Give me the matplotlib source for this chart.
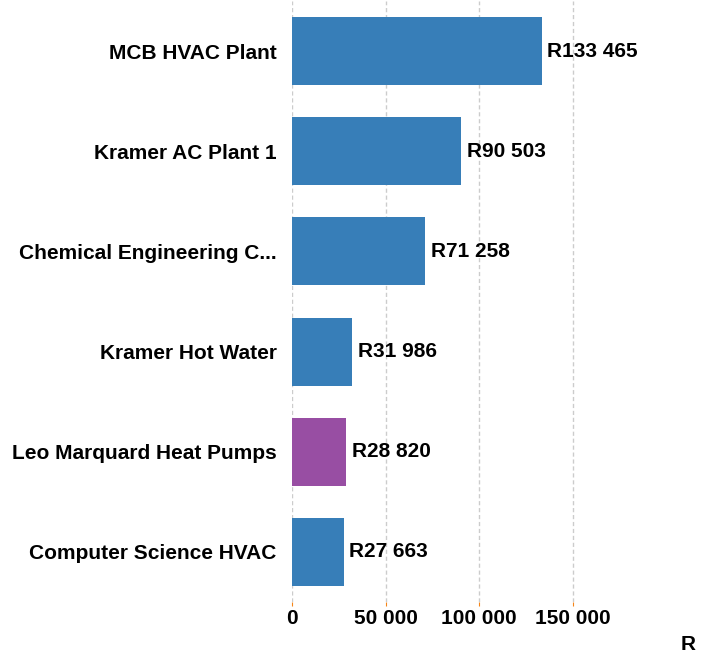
import matplotlib.pyplot as plt
import numpy as np

plt.rcParams['font.family'] = ['Liberation Sans', 'DejaVu Sans']
plt.rcParams['font.weight'] = 'bold'

# data
names = ['MCB HVAC Plant', 'Kramer AC Plant 1', 'Chemical Engineering C...',
         'Kramer Hot Water', 'Leo Marquard Heat Pumps', 'Computer Science HVAC']
values = [133465, 90503, 71258, 31986, 28820, 27663]
highlight = 'Leo Marquard Heat Pumps'

colors = ['#984ea3' if n == highlight else '#377eb8' for n in names]

fig = plt.figure(figsize=(7.17, 6.62), dpi=100)
ax = fig.add_axes([0.4073, 0.0906, 0.569, 0.908])

y = np.arange(len(names))
ax.barh(y, values, height=0.68, color=colors, zorder=2)
ax.set_ylim(len(names) - 0.5, -0.5)
ax.set_xlim(0, 218000)

for i, v in enumerate(values):
    ax.text(v + 3000, i, 'R' + format(v, ',').replace(',', ' '),
            va='center', ha='left', fontsize=15, fontweight='bold')

ax.set_yticks(y)
ax.set_yticklabels(names, fontsize=15, fontweight='bold')
ax.set_xticks([0, 50000, 100000, 150000])
ax.set_xticklabels(['0', '50 000', '100 000', '150 000'], fontsize=15, fontweight='bold')
ax.tick_params(axis='y', length=0, pad=11)
ax.tick_params(axis='x', length=3, color='#f58518', pad=2)

ax.grid(axis='x', color='#cccccc', linestyle=(0, (3, 2)), linewidth=1, zorder=0)
for s in ax.spines.values():
    s.set_visible(False)

ax.set_xlabel('R', fontsize=15, fontweight='bold')
ax.xaxis.set_label_coords(0.97, -0.055)

plt.savefig('out.png', dpi=100)
